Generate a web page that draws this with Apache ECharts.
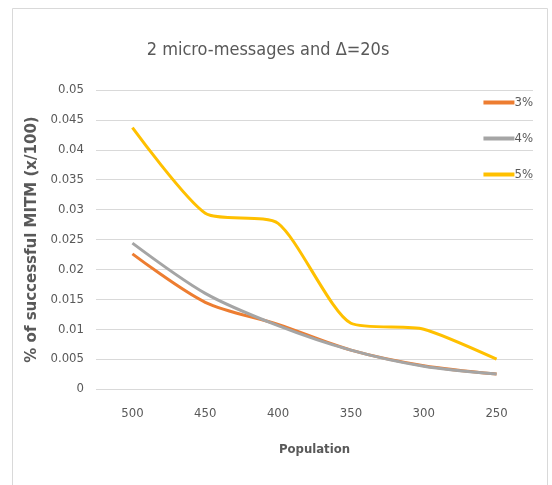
<!DOCTYPE html>
<html><head><meta charset="utf-8">
<script src="https://cdn.jsdelivr.net/npm/echarts@6/dist/echarts.min.js"></script>
<style>html,body{margin:0;padding:0;background:#fff}#c{width:552px;height:485px}</style>
</head><body><div id="c"></div>
<script>
var categories = ['500','450','400','350','300','250'];
var s3 = [0.0226, 0.0145, 0.0108, 0.0065, 0.0039, 0.0025];
var s4 = [0.0244, 0.0160, 0.0106, 0.0065, 0.0038, 0.0025];
var s5 = [0.0437, 0.0294, 0.0277, 0.0110, 0.0100, 0.0050];
var seriesNames = ['3%','4%','5%'];
var colors = ['#ED7D31','#A5A5A5','#FFC000'];
var yTicks = [0,0.005,0.01,0.015,0.02,0.025,0.03,0.035,0.04,0.045,0.05];

var FONT = '"DejaVu Sans Condensed", "Open Sans", sans-serif';
var chart = echarts.init(document.getElementById('c'));
function mk(name, data, color, sm){
  return {name:name, type:'line', data:data, smooth:sm, symbol:'none',
    lineStyle:{color:color, width:3}, itemStyle:{color:color}};
}
chart.setOption({
  animation:false,
  textStyle:{fontFamily:FONT},
  graphic:[{type:'rect', shape:{x:12.5,y:8.5,width:535,height:490}, style:{fill:'none', stroke:'#d9d9d9', lineWidth:1}}],
  title:{text:'2 micro-messages and Δ=20s', left:263, textAlign:'center', top:36,
    textStyle:{fontFamily:FONT, fontSize:18, fontWeight:'normal', color:'#595959'}},
  legend:{orient:'vertical', right:14, top:91, itemGap:23, itemWidth:31, itemHeight:4, icon:'rect',
    textStyle:{fontFamily:FONT, fontSize:13, color:'#595959', padding:[0,0,0,-5]},
    data:seriesNames},
  grid:{left:96, right:19, top:90, bottom:96, containLabel:false},
  xAxis:{type:'category', data:categories, boundaryGap:true,
    axisLine:{show:false}, axisTick:{show:false},
    axisLabel:{color:'#595959', fontSize:13, fontFamily:FONT, margin:18},
    name:'Population', nameLocation:'middle', nameGap:54,
    nameTextStyle:{color:'#595959', fontSize:13, fontWeight:'bold', fontFamily:FONT}},
  yAxis:{type:'value', min:0, max:0.05, interval:0.005,
    axisLine:{show:false}, axisTick:{show:false},
    splitLine:{lineStyle:{color:'#d9d9d9', width:1}},
    axisLabel:{color:'#595959', fontSize:13, fontFamily:FONT, margin:12,
      formatter:function(v){ for(var i=0;i<yTicks.length;i++){ if(Math.abs(yTicks[i]-v)<1e-9) return String(yTicks[i]); } return ''; }},
    name:'% of successful MITM (x/100)', nameLocation:'middle', nameGap:49,
    nameTextStyle:{color:'#595959', fontSize:15, fontWeight:'bold', fontFamily:'"DejaVu Sans", sans-serif'}},
  series:[mk(seriesNames[0], s3, colors[0], 0.3), mk(seriesNames[1], s4, colors[1], 0.3), mk(seriesNames[2], s5, colors[2], 0.22)]
});
</script></body></html>
